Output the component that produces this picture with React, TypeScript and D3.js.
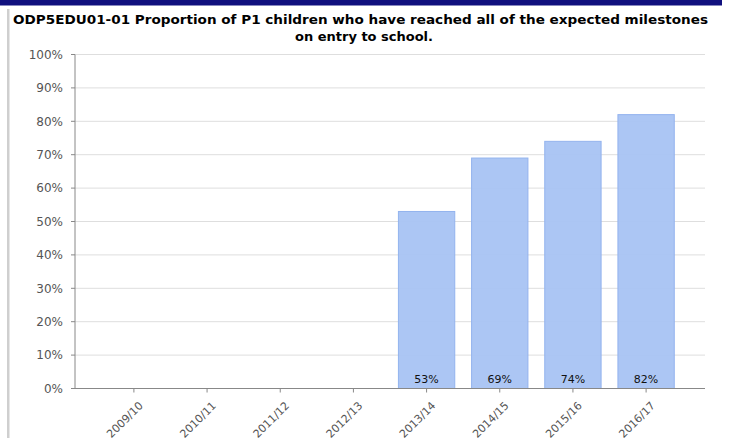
import React from "react";
import * as d3 from "d3";

const categories = ["2009/10", "2010/11", "2011/12", "2012/13", "2013/14", "2014/15", "2015/16", "2016/17"];
const values: (number | null)[] = [null, null, null, null, 53, 69, 74, 82];
const yTicks = [0, 10, 20, 30, 40, 50, 60, 70, 80, 90, 100];
const titleLines = [
  "ODP5EDU01-01 Proportion of P1 children who have reached all of the expected milestones",
  "on entry to school.",
];

const W = 729;
const H = 438;
const left = 75;
const right = 705;
const top = 54.5;
const bottom = 388.5;

export default function App() {
  const x = d3.scaleBand<string>().domain(categories).range([left, right]).paddingInner(0.23).paddingOuter(0.42);
  const y = d3.scaleLinear().domain([0, 100]).range([bottom, top]);
  const font = "Tahoma, 'DejaVu Sans', Verdana, sans-serif";
  return (
    <svg width={W} height={H} style={{ position: "absolute", left: 0, top: 0, background: "#fff" }} fontFamily={font}>
      <rect x={0} y={0} width={722} height={5.5} fill="#10107e" />
      <rect x={7} y={9} width={2.5} height={H - 9} fill="#cfcfcf" />
      <text x={360.5} y={24} textAnchor="middle" fontWeight="bold" fontSize={13} textLength={695} lengthAdjust="spacingAndGlyphs" fill="#000">
        {titleLines[0]}
      </text>
      <text x={364} y={41} textAnchor="middle" fontWeight="bold" fontSize={13} fill="#000">
        {titleLines[1]}
      </text>
      {yTicks.map((t) => (
        <g key={t}>
          {t > 0 && <line x1={left} x2={right} y1={y(t)} y2={y(t)} stroke="#dedede" strokeWidth={1} />}
          <line x1={left - 4} x2={left} y1={y(t)} y2={y(t)} stroke="#888" />
          <text x={63} y={y(t)} dy="0.35em" textAnchor="end" fontSize={12} fill="#555">
            {t}%
          </text>
        </g>
      ))}
      {categories.map((c, i) => {
        const v = values[i];
        if (v == null) return null;
        const bx = x(c)!;
        return (
          <g key={c}>
            <rect x={bx} y={y(v)} width={x.bandwidth()} height={y(0) - y(v)} fill="#a8c3f3" fillOpacity={0.95} stroke="#93b3ee" strokeWidth={1} />
            <text x={bx + x.bandwidth() / 2} y={383} textAnchor="middle" fontSize={11} fill="#111">
              {v}%
            </text>
          </g>
        );
      })}
      <line x1={left} x2={left} y1={top} y2={bottom} stroke="#888" />
      <line x1={left} x2={right} y1={bottom} y2={bottom} stroke="#888" />
      {categories.map((c) => {
        const cx = x(c)! + x.bandwidth() / 2;
        return (
          <g key={c}>
            <line x1={cx} x2={cx} y1={bottom} y2={bottom + 4} stroke="#888" />
            <text transform={`translate(${cx + 7},${bottom + 15}) rotate(-45)`} textAnchor="end" dy="0.35em" fontSize={11} fill="#555">
              {c}
            </text>
          </g>
        );
      })}
    </svg>
  );
}
